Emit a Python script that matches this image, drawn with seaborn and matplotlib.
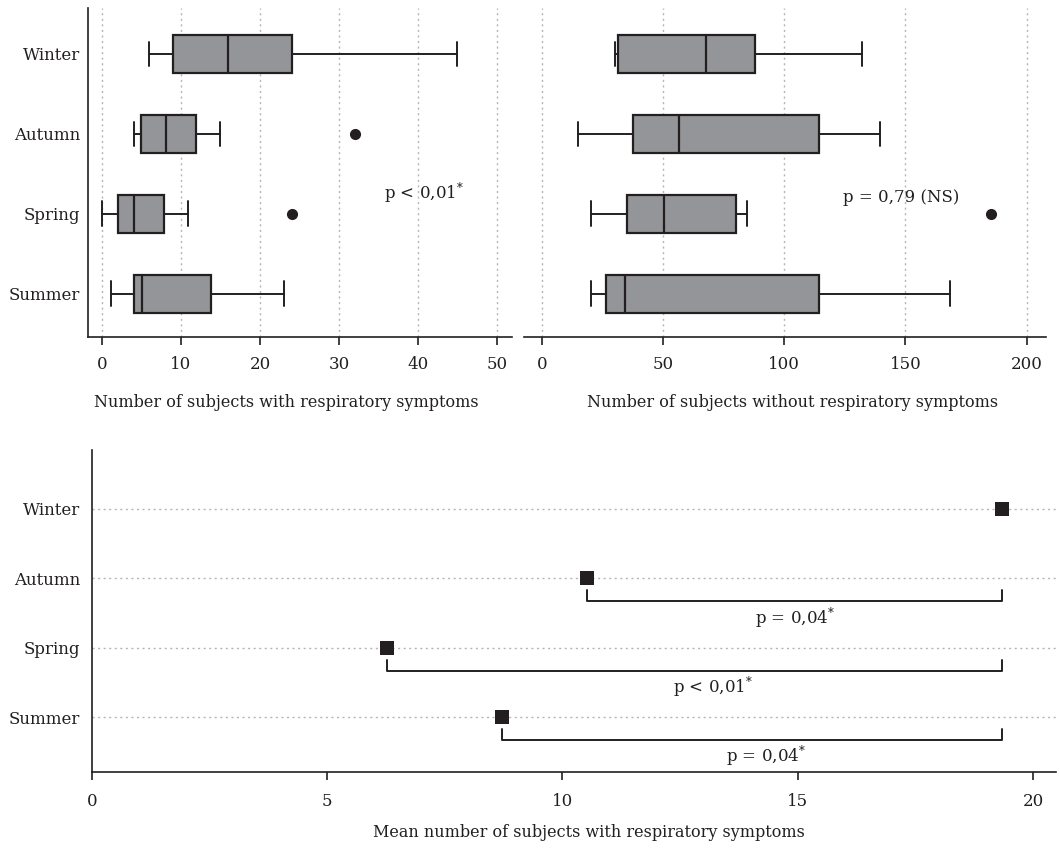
import matplotlib
matplotlib.use('Agg')
import matplotlib.pyplot as plt
import seaborn as sns

seasons = ['Winter', 'Autumn', 'Spring', 'Summer']

# box stats: low whisker, Q1, median, Q3, high whisker
with_lo = [6, 4.1, 0, 1.1]
with_q1 = [9, 5, 2, 4.1]
with_med = [16, 8.1, 4, 5.1]
with_q3 = [24, 11.9, 7.9, 13.8]
with_hi = [45, 15, 10.9, 23]
with_out = [[], [32], [24], []]

without_lo = [30, 15, 20.4, 20.4]
without_q1 = [31.5, 37.4, 35.1, 26.6]
without_med = [67.6, 56.4, 50.4, 34.3]
without_q3 = [87.8, 114.4, 80.1, 114.4]
without_hi = [131.9, 139.4, 84.7, 168.5]
without_out = [[], [], [185.4], []]

mean_with = [19.34, 10.53, 6.26, 8.72]
# comparisons against winter
comp_season = ['Autumn', 'Spring', 'Summer']
comp_text = ['p = 0,04', 'p < 0,01', 'p = 0,04']
comp_text_x = [14.94, 13.19, 14.32]

sns.set_theme(style='ticks')
plt.rcParams['font.family'] = ['DejaVu Serif']
plt.rcParams['mathtext.fontset'] = 'dejavuserif'

dark = '#231f20'
grey = '#939598'
W, H = 1060, 849

fig = plt.figure(figsize=(W / 100, H / 100), dpi=100)
ax1 = fig.add_axes([88 / W, 1 - 337 / H, (512 - 88) / W, (337 - 8) / H])
ax2 = fig.add_axes([524 / W, 1 - 337 / H, (1046 - 524) / W, (337 - 8) / H])
ax3 = fig.add_axes([92 / W, 1 - 772 / H, (1056 - 92) / W, (772 - 450) / H])


def make_stats(lo, q1, med, q3, hi, out):
    return [dict(label=s, whislo=lo[i], q1=q1[i], med=med[i], q3=q3[i],
                 whishi=hi[i], fliers=out[i]) for i, s in enumerate(seasons)]


def style_axis(ax, ypad):
    sns.despine(ax=ax)
    ax.set_axisbelow(True)
    ax.tick_params(axis='x', length=6, width=1.2, color=dark, pad=8,
                   labelsize=12, labelcolor=dark)
    ax.tick_params(axis='y', length=0, pad=ypad, labelsize=12, labelcolor=dark)
    for sp in ax.spines.values():
        sp.set_color(dark)
        sp.set_linewidth(1.2)


def draw_box(ax, stats, xlim, ticks):
    ax.bxp(stats, positions=range(len(seasons)), orientation='horizontal',
           widths=0.48, capwidths=0.31, patch_artist=True, manage_ticks=False,
           boxprops=dict(facecolor=grey, edgecolor=dark, linewidth=1.6),
           medianprops=dict(color=dark, linewidth=1.6),
           whiskerprops=dict(color=dark, linewidth=1.4),
           capprops=dict(color=dark, linewidth=1.4),
           flierprops=dict(marker='o', markerfacecolor=dark, markeredgecolor=dark,
                           markersize=7))
    ax.set_ylim(3.54, -0.575)
    ax.set_xlim(*xlim)
    ax.set_xticks(ticks)
    ax.xaxis.grid(True, linestyle=(0, (1.5, 2.5)), color='#b5b5b5', linewidth=1)
    style_axis(ax, 5.5)


draw_box(ax1, make_stats(with_lo, with_q1, with_med, with_q3, with_hi, with_out),
         (-1.77, 51.9), range(0, 51, 10))
ax1.set_yticks(range(len(seasons)))
ax1.set_yticklabels(seasons)
ax1.set_xlabel('Number of subjects with respiratory symptoms', fontsize=11.5,
               color=dark)
ax1.xaxis.set_label_coords(0.467, -0.172)
ax1.text(40.8, 1.74, r'p < 0,01$^{*}$', fontsize=12, color=dark,
         ha='center', va='center')

draw_box(ax2, make_stats(without_lo, without_q1, without_med, without_q3,
                         without_hi, without_out),
         (-7.4, 208), range(0, 201, 50))
ax2.set_yticks([])
ax2.spines['left'].set_visible(False)
ax2.set_xlabel('Number of subjects without respiratory symptoms', fontsize=11.5,
               color=dark)
ax2.xaxis.set_label_coords(0.515, -0.172)
ax2.text(148.2, 1.79, 'p = 0,79 (NS)', fontsize=12, color=dark,
         ha='center', va='center')

# bottom panel: means
sns.stripplot(x=mean_with, y=seasons, jitter=False, marker='s', size=10,
              color=dark, linewidth=0, ax=ax3, zorder=3)
ax3.set_ylim(3.79, -0.85)
ax3.set_xlim(0, 20.49)
ax3.set_xticks(range(0, 21, 5))
ax3.yaxis.grid(True, linestyle=(0, (1.5, 2.5)), color='#b5b5b5', linewidth=1)
style_axis(ax3, 8.5)
ax3.tick_params(axis='x', pad=9)
ax3.set_xlabel('Mean number of subjects with respiratory symptoms', fontsize=11.5,
               color=dark)
ax3.xaxis.set_label_coords(0.516, -0.16)

ref = mean_with[seasons.index('Winter')]
for s, txt, tx in zip(comp_season, comp_text, comp_text_x):
    yi = seasons.index(s)
    xi = mean_with[yi]
    ax3.plot([xi, xi, ref, ref], [yi + 0.17, yi + 0.33, yi + 0.33, yi + 0.17],
             color=dark, linewidth=1.4)
    ax3.text(tx, yi + 0.57, txt + r'$^{*}$', fontsize=12, color=dark,
             ha='center', va='center')

fig.savefig('out.png', dpi=100)
